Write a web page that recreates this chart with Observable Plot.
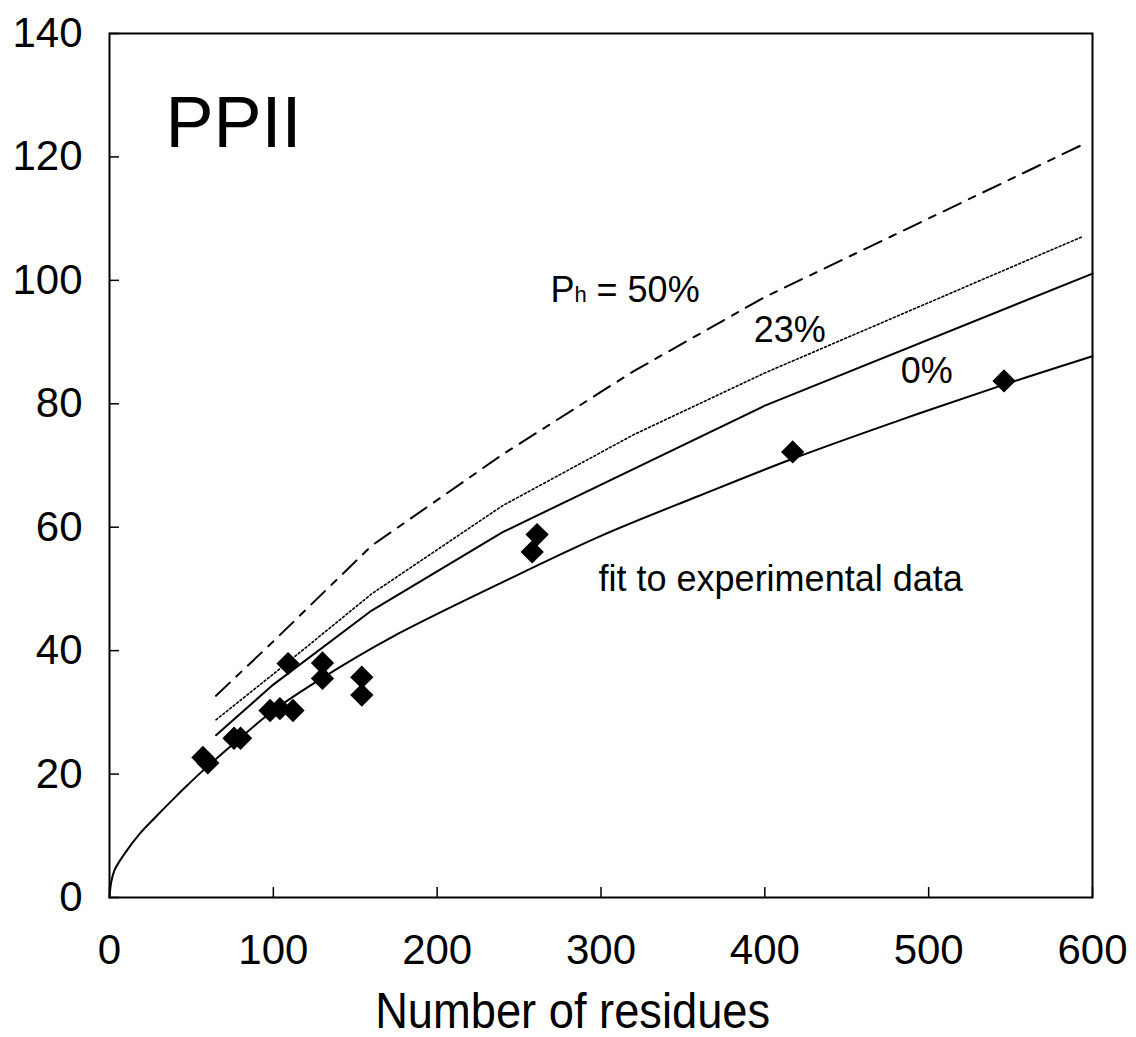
<!DOCTYPE html>
<html>
<head>
<meta charset="utf-8">
<script src="https://cdn.jsdelivr.net/npm/d3@7"></script>
<script src="https://cdn.jsdelivr.net/npm/@observablehq/plot@0.6"></script>
<style>
  body { margin: 0; background: #fff; }
  #chart svg { display: block; }
</style>
</head>
<body>
<div id="chart"></div>
<script>
// Experimental data (diamonds)
const residues = [57, 60, 76, 80, 98, 104, 112, 109, 130, 130, 154, 154, 258, 261, 417, 546];
const rgValues = [22.7, 21.8, 25.8, 25.8, 30.3, 30.6, 30.3, 37.9, 38.0, 35.5, 35.7, 32.8, 56.0, 58.8, 72.2, 83.7];

// Fit to experimental data (smooth curve)
const fitX = [0, 1, 3, 10, 18, 28, 38, 48, 58, 80, 100, 130, 171, 240, 300, 360, 417, 483, 546, 600];
const fitY = [0, 2.4, 4.4, 7.4, 10.2, 13.0, 15.7, 18.3, 20.8, 25.9, 30.3, 35.6, 42.0, 51.1, 58.6, 65.1, 71.1, 77.4, 83.1, 87.7];

// Ph = 0% (solid)
const p0X = [65, 100, 160, 240, 400, 600];
const p0Y = [26.3, 34.5, 46.5, 59.2, 79.7, 101.1];

// Ph = 23% (dotted)
const p23X = [65, 100, 160, 240, 320, 400, 594];
const p23Y = [28.8, 36.2, 49.2, 63.5, 75.0, 85.0, 107.1];

// Ph = 50% (dash-dot)
const p50X = [65, 100, 160, 240, 320, 400, 594];
const p50Y = [32.7, 41.5, 57.0, 71.8, 85.3, 97.3, 122.0];

// Ticks
const xTicks = [0, 100, 200, 300, 400, 500, 600];
const yTicks = [0, 20, 40, 60, 80, 100, 120, 140];

// Texts
const panelTitle = "PPII";
const xAxisTitle = "Number of residues";
const labelTexts = ["23%", "0%", "fit to experimental data"];
const labelX = [393.2, 482.9, 298.5];
const labelY = [91.8, 85.3, 51.6];

const toRows = (xs, ys) => xs.map((x, i) => ({x, y: ys[i]}));
const pts = toRows(residues, rgValues);
const fit = toRows(fitX, fitY);
const s0 = toRows(p0X, p0Y);
const s23 = toRows(p23X, p23Y);
const s50 = toRows(p50X, p50Y);
const labels = labelTexts.map((t, i) => ({t, x: labelX[i], y: labelY[i]}));

const font = "'Liberation Sans', Arial, Helvetica, sans-serif";

const chart = Plot.plot({
  width: 1136,
  height: 1037,
  marginLeft: 109,
  marginRight: 44,
  marginTop: 33,
  marginBottom: 140,
  style: {fontFamily: font, background: "#fff", color: "#000"},
  x: {domain: [0, 600]},
  y: {domain: [0, 140]},
  marks: [
    Plot.frame({stroke: "#000", strokeWidth: 2}),
    Plot.axisY({ticks: yTicks, tickSize: -10, tickPadding: 37, fontSize: 42, tickFormat: d => String(d), label: null, strokeWidth: 1.5}),
    Plot.axisX({ticks: xTicks, tickSize: -10, tickPadding: 47, fontSize: 42, tickFormat: d => String(d), label: null, strokeWidth: 1.5}),
    Plot.line(fit, {x: "x", y: "y", curve: "catmull-rom", stroke: "#000", strokeWidth: 2}),
    Plot.line(s0, {x: "x", y: "y", stroke: "#000", strokeWidth: 2}),
    Plot.line(s23, {x: "x", y: "y", stroke: "#000", strokeWidth: 1.6, strokeDasharray: "2,2.4"}),
    Plot.line(s50, {x: "x", y: "y", stroke: "#000", strokeWidth: 2, strokeDasharray: "19,9,7,9"}),
    Plot.dot(pts, {x: "x", y: "y", symbol: "diamond2", r: 10.5, fill: "#000", stroke: "none"}),
    Plot.text([panelTitle], {x: 34.2, y: 125.4, text: d => d, textAnchor: "start", fontSize: 72, fill: "#000"}),
    Plot.text(["P"], {x: 269.2, y: 98.3, text: d => d, textAnchor: "start", fontSize: 36, fill: "#000"}),
    Plot.text(["h"], {x: 283.9, y: 97.6, text: d => d, textAnchor: "start", fontSize: 22, fill: "#000"}),
    Plot.text(["= 50%"], {x: 297.3, y: 98.3, text: d => d, textAnchor: "start", fontSize: 36, fill: "#000"}),
    Plot.text(labels, {x: "x", y: "y", text: "t", textAnchor: "start", fontSize: 36, fill: "#000"}),
    Plot.text([xAxisTitle], {x: 282.7, frameAnchor: "bottom", dy: 130, text: d => d, textAnchor: "middle", fontSize: 50, fill: "#000", className: "xtitle"})
  ]
});

// Slightly condensed axis title, as in the reference
const t = chart.querySelector(".xtitle text");
if (t) { t.setAttribute("textLength", "395"); t.setAttribute("lengthAdjust", "spacingAndGlyphs"); }

document.getElementById("chart").appendChild(chart);
</script>
</body>
</html>
